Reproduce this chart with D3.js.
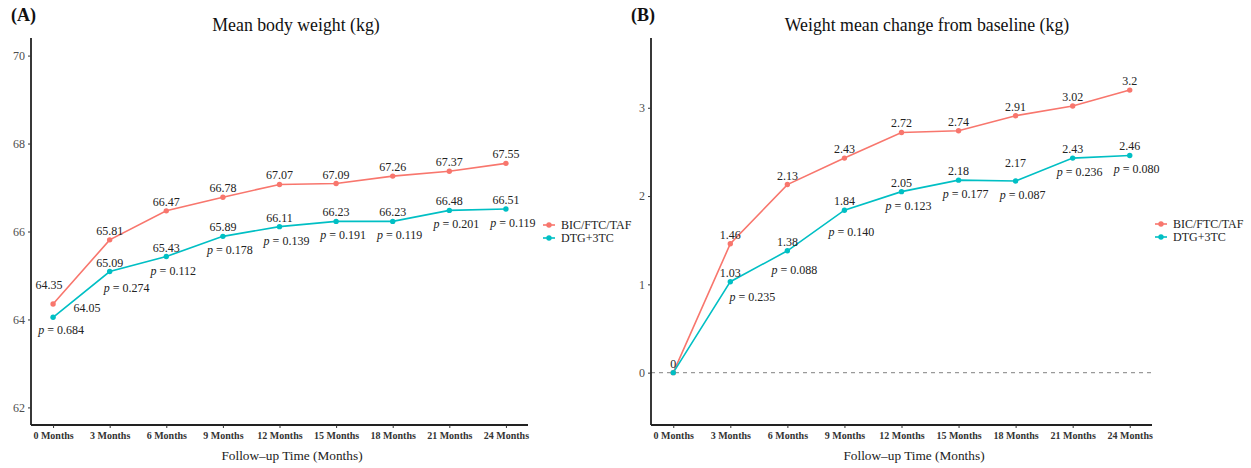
<!DOCTYPE html>
<html>
<head>
<meta charset="utf-8">
<script src="https://cdn.jsdelivr.net/npm/d3@7"></script>
<style>
  body { margin: 0; background: #fff; }
  text { font-family: "Liberation Serif", "Times New Roman", serif; }
</style>
</head>
<body>
<div id="chart"></div>
<script>
// Data
const months = ["0 Months", "3 Months", "6 Months", "9 Months", "12 Months",
                "15 Months", "18 Months", "21 Months", "24 Months"];
const seriesNames = ["BIC/FTC/TAF", "DTG+3TC"];

const bicWeight = [64.35, 65.81, 66.47, 66.78, 67.07, 67.09, 67.26, 67.37, 67.55];
const dtgWeight = [64.05, 65.09, 65.43, 65.89, 66.11, 66.23, 66.23, 66.48, 66.51];
const pWeight = ["0.684", "0.274", "0.112", "0.178", "0.139", "0.191", "0.119", "0.201", "0.119"];

const bicChange = [0, 1.46, 2.13, 2.43, 2.72, 2.74, 2.91, 3.02, 3.2];
const dtgChange = [0, 1.03, 1.38, 1.84, 2.05, 2.18, 2.17, 2.43, 2.46];
const pChange = [null, "0.235", "0.088", "0.140", "0.123", "0.177", "0.087", "0.236", "0.080"];

const weightTicks = [62, 64, 66, 68, 70];
const changeTicks = [0, 1, 2, 3];

const colors = ["#F8766D", "#00BFC4"];

const width = 1251;
const height = 468;

const svg = d3.select("#chart")
    .append("svg")
    .attr("width", width)
    .attr("height", height);

// small label nudges (ggrepel-like moves in the original)
const nudges = {
    "A-0-0": {dx: -4, dy: -10},
    "A-1-0": {dx: 34, dy: 0},
    "A-p-1": {dx: 10, dy: 2},
    "A-p-0": {dx: 1, dy: -1},
    "B-1-6": {dx: 0, dy: -9},
    "B-p-1": {dx: 15, dy: 1},
    "B-p-2": {dx: 0, dy: 5},
    "B-p-3": {dx: 0, dy: 8}
};
const nudge = key => nudges[key] || {dx: 0, dy: 0};

function drawPanel(cfg) {
    const g = svg.append("g");

    const x = d3.scalePoint()
        .domain(months)
        .range([cfg.left, cfg.right])
        .padding(0.39);

    const y = d3.scaleLinear()
        .domain(cfg.yDomain)
        .range([cfg.bottom, cfg.top]);

    // reference line
    if (cfg.zeroLine) {
        g.append("line")
            .attr("x1", cfg.left).attr("x2", cfg.right)
            .attr("y1", y(0)).attr("y2", y(0))
            .attr("stroke", "#9a9a9a")
            .attr("stroke-width", 1.2)
            .attr("stroke-dasharray", "4,4");
    }

    // y axis
    const yAxis = g.append("g")
        .attr("transform", `translate(${cfg.left},0)`)
        .call(d3.axisLeft(y).tickValues(cfg.ticks).tickFormat(d3.format("d"))
            .tickSize(3).tickPadding(3));
    yAxis.select(".domain").attr("stroke", "#222").attr("stroke-width", 1.8)
        .attr("d", `M0,${cfg.top}V${cfg.bottom}`);
    yAxis.selectAll(".tick line").attr("stroke", "#333").attr("stroke-width", 1);
    yAxis.selectAll(".tick text")
        .attr("fill", "#4d4d4d")
        .style("font-family", "'Liberation Serif', serif")
        .style("font-size", "12px");

    // x axis
    const xAxis = g.append("g")
        .attr("transform", `translate(0,${cfg.bottom})`)
        .call(d3.axisBottom(x).tickSize(3).tickPadding(4));
    xAxis.select(".domain").attr("stroke", "#222").attr("stroke-width", 1.8)
        .attr("d", `M${cfg.left},0H${cfg.right}`);
    xAxis.selectAll(".tick line").attr("stroke", "#333").attr("stroke-width", 1);
    xAxis.selectAll(".tick text")
        .attr("fill", "#333")
        .style("font-family", "'Liberation Serif', serif")
        .style("font-size", "10px")
        .style("font-weight", "bold");

    // lines and points
    const line = d3.line()
        .x((d, i) => x(months[i]))
        .y(d => y(d));

    cfg.series.forEach((vals, s) => {
        g.append("path")
            .datum(vals)
            .attr("fill", "none")
            .attr("stroke", colors[s])
            .attr("stroke-width", 1.6)
            .attr("d", line);
    });
    cfg.series.forEach((vals, s) => {
        g.selectAll(null)
            .data(vals)
            .enter()
            .append("circle")
            .attr("cx", (d, i) => x(months[i]))
            .attr("cy", d => y(d))
            .attr("r", 2.7)
            .attr("fill", colors[s]);
    });

    // value labels
    cfg.series.forEach((vals, s) => {
        vals.forEach((v, i) => {
            if (s === 1 && i === 0 && cfg.zeroLine) return; // overlapping "0"
            const n = nudge(`${cfg.id}-${s}-${i}`);
            g.append("text")
                .attr("x", x(months[i]) + n.dx)
                .attr("y", y(v) - 5 + n.dy)
                .attr("text-anchor", "middle")
                .attr("fill", "#222")
                .style("font-size", "12px")
                .text(String(v));
        });
    });

    // p labels under the DTG+3TC points
    cfg.pvals.forEach((p, i) => {
        if (p === null) return;
        const n = nudge(`${cfg.id}-p-${i}`);
        const t = g.append("text")
            .attr("x", x(months[i]) + 7 + n.dx)
            .attr("y", y(cfg.series[1][i]) + 18 + n.dy)
            .attr("text-anchor", "middle")
            .attr("fill", "#222")
            .style("font-size", "12px");
        t.append("tspan").style("font-style", "italic").text("p");
        t.append("tspan").text(" = " + p);
    });

    // titles
    g.append("text")
        .attr("x", cfg.titleX)
        .attr("y", 31)
        .attr("text-anchor", "middle")
        .attr("fill", "#111")
        .style("font-size", "17.8px")
        .text(cfg.title);

    g.append("text")
        .attr("x", cfg.tag.x)
        .attr("y", 21)
        .attr("fill", "#111")
        .style("font-size", "18px")
        .style("font-weight", "bold")
        .text(cfg.tag.label);

    g.append("text")
        .attr("x", cfg.xTitleX)
        .attr("y", 460)
        .attr("text-anchor", "middle")
        .attr("fill", "#222")
        .style("font-size", "13.3px")
        .text("Follow\u2013up Time (Months)");

    // legend
    const lg = g.append("g").attr("transform", `translate(${cfg.legend.x},${cfg.legend.y})`);
    seriesNames.forEach((name, s) => {
        const row = lg.append("g").attr("transform", `translate(0,${s * 13})`);
        row.append("line")
            .attr("x1", -6).attr("x2", 6)
            .attr("stroke", colors[s]).attr("stroke-width", 1.6);
        row.append("circle").attr("r", 2.7).attr("fill", colors[s]);
        row.append("text")
            .attr("x", 12)
            .attr("y", 4)
            .attr("fill", "#222")
            .style("font-size", "12px")
            .text(name);
    });
}

drawPanel({
    id: "A",
    left: 31, right: 528, top: 38, bottom: 425,
    yDomain: [61.6, 70.4],
    ticks: weightTicks,
    series: [bicWeight, dtgWeight],
    pvals: pWeight,
    zeroLine: false,
    title: "Mean body weight (kg)",
    titleX: 296,
    xTitleX: 292,
    tag: {x: 11, label: "(A)"},
    legend: {x: 549, y: 225}
});

drawPanel({
    id: "B",
    left: 651, right: 1152, top: 38, bottom: 425,
    yDomain: [-0.593, 3.79],
    ticks: changeTicks,
    series: [bicChange, dtgChange],
    pvals: pChange,
    zeroLine: true,
    title: "Weight mean change from baseline (kg)",
    titleX: 927,
    xTitleX: 914,
    tag: {x: 631, label: "(B)"},
    legend: {x: 1161, y: 224}
});
</script>
</body>
</html>
